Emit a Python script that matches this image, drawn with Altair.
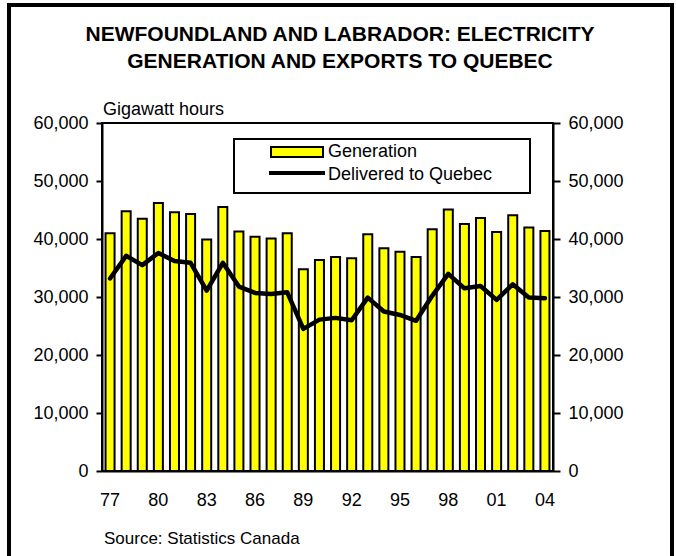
import altair as alt
import pandas as pd

# Newfoundland and Labrador electricity, gigawatt hours, 1977-2004
years = list(range(1977, 2005))
generation = [41000, 44800, 43500, 46200, 44600, 44300, 39900, 45500, 41300, 40400,
              40100, 41000, 34800, 36400, 36900, 36700, 40800, 38400, 37800, 36900,
              41700, 45100, 42600, 43600, 41200, 44100, 42000, 41400]
delivered_quebec = [33200, 37100, 35500, 37600, 36200, 35900, 31100, 35900, 31800, 30700,
                    30500, 30800, 24500, 26100, 26400, 26000, 29900, 27500, 26900, 25900,
                    30200, 34000, 31500, 31900, 29500, 32200, 29900, 29800]

legend_labels = ["Generation", "Delivered to Quebec"]
title_lines = ["NEWFOUNDLAND AND LABRADOR: ELECTRICITY", "GENERATION AND EXPORTS TO QUEBEC"]

df = pd.DataFrame({"year": years, "generation": generation, "quebec": delivered_quebec})

FONT = "Liberation Sans"
W, H = 451, 348

x_scale = alt.Scale(paddingInner=0.44, paddingOuter=0.22)
x_axis = alt.Axis(
    title=None,
    labelExpr="(datum.value - 1977) % 3 == 0 ? slice(toString(datum.value), 2) : ''",
    labelAngle=0,
    labelOverlap=False,
    ticks=False,
    tickSize=0,
    labelPadding=20,
    labelFontSize=18,
    labelFont=FONT,
    labelColor="black",
    domainColor="black",
    domainWidth=2,
)

y_scale = alt.Scale(domain=[0, 60000], nice=False)


def y_axis(orient, tick):
    return alt.Axis(
        orient=orient,
        title=None,
        values=[0, 10000, 20000, 30000, 40000, 50000, 60000],
        format=",.0f",
        grid=False,
        tickSize=tick,
        tickWidth=2,
        tickColor="black",
        domainColor="black",
        domainWidth=2,
        labelPadding=8,
        labelFontSize=18,
        labelFont=FONT,
        labelColor="black",
    )


bars = alt.Chart(df).mark_bar(
    color="#FFFF00", stroke="black", strokeWidth=2
).encode(
    x=alt.X("year:O", scale=x_scale, axis=x_axis),
    y=alt.Y("generation:Q", scale=y_scale, axis=y_axis("left", 6)),
)

line = alt.Chart(df).mark_line(
    color="black", strokeWidth=4.5, strokeJoin="round", strokeCap="round"
).encode(
    x=alt.X("year:O", scale=x_scale, axis=x_axis),
    y=alt.Y("quebec:Q", scale=y_scale, axis=y_axis("right", 7)),
)

# outer frame around the whole figure
frame = alt.Chart(df).mark_rect(
    fill=None, stroke="black", strokeWidth=3
).encode(
    x=alt.value(-93), x2=alt.value(570), y=alt.value(-118), y2=alt.value(445)
)

# top edge of the plot box
top_edge = alt.Chart(df).mark_rule(color="black", strokeWidth=2).encode(
    x=alt.value(0), x2=alt.value(W), y=alt.value(0)
)

# legend box
legend_box = alt.Chart(df).mark_rect(
    fill="white", stroke="black", strokeWidth=2
).encode(
    x=alt.value(132), x2=alt.value(428), y=alt.value(16), y2=alt.value(70)
)
legend_swatch = alt.Chart(df).mark_rect(
    fill="#FFFF00", stroke="black", strokeWidth=2
).encode(
    x=alt.value(169), x2=alt.value(221), y=alt.value(24), y2=alt.value(34)
)
legend_line = alt.Chart(df).mark_rule(
    color="black", strokeWidth=4, strokeCap="round"
).encode(
    x=alt.value(169), x2=alt.value(221), y=alt.value(50)
)
legend_df = pd.DataFrame({"label": legend_labels, "row": [0, 1]})
legend_text = alt.Chart(legend_df).mark_text(
    align="left", baseline="middle", fontSize=18, font=FONT, color="black"
).encode(
    x=alt.value(226),
    y=alt.Y("row:O", scale=alt.Scale(type="point", range=[29, 52], padding=0), axis=None),
    text="label:N",
)

title_df = pd.DataFrame({"line": title_lines, "row": [0, 1]})
title = alt.Chart(title_df).mark_text(
    align="center", baseline="alphabetic", fontSize=21, fontWeight="bold",
    font=FONT, color="black"
).encode(
    x=alt.value(238),
    y=alt.Y("row:O", scale=alt.Scale(type="point", range=[-82, -55], padding=0), axis=None),
    text="line:N",
)

units = alt.Chart(pd.DataFrame({"t": ["Gigawatt hours"]})).mark_text(
    align="left", baseline="alphabetic", fontSize=18, font=FONT, color="black"
).encode(x=alt.value(1), y=alt.value(-8), text="t:N")

source = alt.Chart(pd.DataFrame({"t": ["Source: Statistics Canada"]})).mark_text(
    align="left", baseline="alphabetic", fontSize=17, font=FONT, color="black"
).encode(x=alt.value(2), y=alt.value(421), text="t:N")

chart = alt.layer(
    frame, bars, line, top_edge, legend_box, legend_swatch, legend_line,
    legend_text, title, units, source
).resolve_scale(
    y="independent"
).properties(
    width=W,
    height=H,
    autosize="none",
    padding={"left": 102, "top": 123, "right": 123, "bottom": 85},
).configure(
    background="white",
    view=alt.ViewConfig(stroke="black", strokeWidth=2),
)

chart.save("out.html", embed_options={"renderer": "svg", "actions": False})
